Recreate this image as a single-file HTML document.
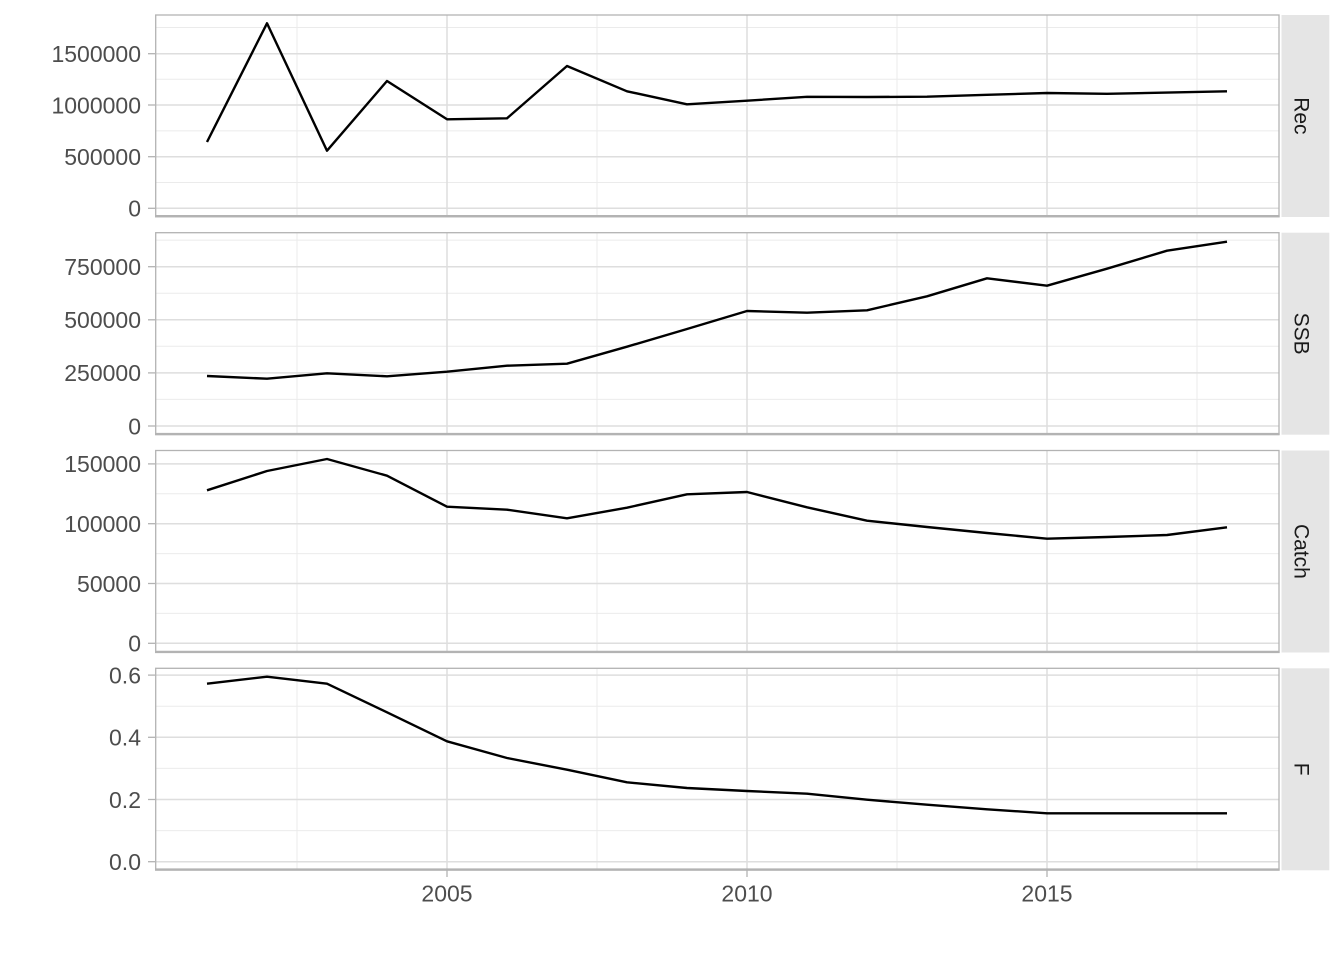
<!DOCTYPE html>
<html>
<head>
<meta charset="utf-8">
<style>
html,body{margin:0;padding:0;background:#fff;}
svg{display:block;}
text{font-family:"Liberation Sans","DejaVu Sans",sans-serif;}
</style>
</head>
<body>
<svg width="1344" height="960" viewBox="0 0 1344 960" xmlns="http://www.w3.org/2000/svg">
<rect x="0" y="0" width="1344" height="960" fill="#ffffff"/>

<!-- ============ Panel 1: Rec ============ -->
<g>
  <g stroke="#ebebeb" stroke-width="1">
    <line x1="156" x2="1279" y1="182.5" y2="182.5"/>
    <line x1="156" x2="1279" y1="130.9" y2="130.9"/>
    <line x1="156" x2="1279" y1="79.3" y2="79.3"/>
    <line x1="156" x2="1279" y1="27.5" y2="27.5"/>
    <line x1="297" x2="297" y1="15" y2="216.7"/>
    <line x1="597" x2="597" y1="15" y2="216.7"/>
    <line x1="897" x2="897" y1="15" y2="216.7"/>
    <line x1="1197" x2="1197" y1="15" y2="216.7"/>
  </g>
  <g stroke="#dedede" stroke-width="1.5">
    <line x1="156" x2="1279" y1="208.3" y2="208.3"/>
    <line x1="156" x2="1279" y1="156.7" y2="156.7"/>
    <line x1="156" x2="1279" y1="105" y2="105"/>
    <line x1="156" x2="1279" y1="53.7" y2="53.7"/>
    <line x1="447" x2="447" y1="15" y2="216.7"/>
    <line x1="747" x2="747" y1="15" y2="216.7"/>
    <line x1="1047" x2="1047" y1="15" y2="216.7"/>
  </g>
  <polyline fill="none" stroke="#000" stroke-width="2.4" stroke-linejoin="round"
    points="207,142 267,23.3 327,150.7 387,81 447,119.3 507,118.3 567,66 627,91.3 687,104.3 747,100.7 807,96.8 867,97 927,96.7 987,94.8 1047,93 1107,93.8 1167,92.6 1227,91.3"/>
  <rect x="155.7" y="15" width="1123.3" height="201.7" fill="none" stroke="#b3b3b3" stroke-width="1.3"/>
  <line x1="155" x2="1279.6" y1="216.2" y2="216.2" stroke="#b3b3b3" stroke-width="2.4"/>
  <g stroke="#b3b3b3" stroke-width="1.3">
    <line x1="148" x2="155" y1="208.3" y2="208.3"/>
    <line x1="148" x2="155" y1="156.7" y2="156.7"/>
    <line x1="148" x2="155" y1="105" y2="105"/>
    <line x1="148" x2="155" y1="53.7" y2="53.7"/>
  </g>
  <g font-size="23" fill="#4d4d4d" text-anchor="end">
    <text x="141" y="208.3" dy="0.36em">0</text>
    <text x="141" y="156.7" dy="0.36em">500000</text>
    <text x="141" y="105" dy="0.36em">1000000</text>
    <text x="141" y="53.7" dy="0.36em">1500000</text>
  </g>
  <rect x="1281.5" y="15" width="47.8" height="202" fill="#e5e5e5"/>
  <text x="1302" y="115.9" font-size="21" fill="#1a1a1a" text-anchor="middle" transform="rotate(90 1302 115.9)" dy="0.36em">Rec</text>
</g>

<!-- ============ Panel 2: SSB ============ -->
<g>
  <g stroke="#ebebeb" stroke-width="1">
    <line x1="156" x2="1279" y1="399.4" y2="399.4"/>
    <line x1="156" x2="1279" y1="346.3" y2="346.3"/>
    <line x1="156" x2="1279" y1="293.2" y2="293.2"/>
    <line x1="156" x2="1279" y1="240.1" y2="240.1"/>
    <line x1="297" x2="297" y1="232.7" y2="434.5"/>
    <line x1="597" x2="597" y1="232.7" y2="434.5"/>
    <line x1="897" x2="897" y1="232.7" y2="434.5"/>
    <line x1="1197" x2="1197" y1="232.7" y2="434.5"/>
  </g>
  <g stroke="#dedede" stroke-width="1.5">
    <line x1="156" x2="1279" y1="426" y2="426"/>
    <line x1="156" x2="1279" y1="372.9" y2="372.9"/>
    <line x1="156" x2="1279" y1="319.8" y2="319.8"/>
    <line x1="156" x2="1279" y1="266.7" y2="266.7"/>
    <line x1="447" x2="447" y1="232.7" y2="434.5"/>
    <line x1="747" x2="747" y1="232.7" y2="434.5"/>
    <line x1="1047" x2="1047" y1="232.7" y2="434.5"/>
  </g>
  <polyline fill="none" stroke="#000" stroke-width="2.4" stroke-linejoin="round"
    points="207,376 267,378.7 327,373.3 387,376.3 447,371.7 507,365.7 567,363.7 627,346.7 687,329 747,311 807,312.7 867,310.3 927,296.3 987,278.3 1047,285.7 1107,268.7 1167,250.7 1227,241.7"/>
  <rect x="155.7" y="232.7" width="1123.3" height="201.8" fill="none" stroke="#b3b3b3" stroke-width="1.3"/>
  <line x1="155" x2="1279.6" y1="434.1" y2="434.1" stroke="#b3b3b3" stroke-width="2.4"/>
  <g stroke="#b3b3b3" stroke-width="1.3">
    <line x1="148" x2="155" y1="426" y2="426"/>
    <line x1="148" x2="155" y1="372.9" y2="372.9"/>
    <line x1="148" x2="155" y1="319.8" y2="319.8"/>
    <line x1="148" x2="155" y1="266.7" y2="266.7"/>
  </g>
  <g font-size="23" fill="#4d4d4d" text-anchor="end">
    <text x="141" y="426" dy="0.36em">0</text>
    <text x="141" y="372.9" dy="0.36em">250000</text>
    <text x="141" y="319.8" dy="0.36em">500000</text>
    <text x="141" y="266.7" dy="0.36em">750000</text>
  </g>
  <rect x="1281.5" y="232.7" width="47.8" height="202" fill="#e5e5e5"/>
  <text x="1302" y="333.6" font-size="21" fill="#1a1a1a" text-anchor="middle" transform="rotate(90 1302 333.6)" dy="0.36em">SSB</text>
</g>

<!-- ============ Panel 3: Catch ============ -->
<g>
  <g stroke="#ebebeb" stroke-width="1">
    <line x1="156" x2="1279" y1="613.4" y2="613.4"/>
    <line x1="156" x2="1279" y1="553.6" y2="553.6"/>
    <line x1="156" x2="1279" y1="493.8" y2="493.8"/>
    <line x1="297" x2="297" y1="450.5" y2="652.3"/>
    <line x1="597" x2="597" y1="450.5" y2="652.3"/>
    <line x1="897" x2="897" y1="450.5" y2="652.3"/>
    <line x1="1197" x2="1197" y1="450.5" y2="652.3"/>
  </g>
  <g stroke="#dedede" stroke-width="1.5">
    <line x1="156" x2="1279" y1="643.3" y2="643.3"/>
    <line x1="156" x2="1279" y1="583.5" y2="583.5"/>
    <line x1="156" x2="1279" y1="523.7" y2="523.7"/>
    <line x1="156" x2="1279" y1="463.9" y2="463.9"/>
    <line x1="447" x2="447" y1="450.5" y2="652.3"/>
    <line x1="747" x2="747" y1="450.5" y2="652.3"/>
    <line x1="1047" x2="1047" y1="450.5" y2="652.3"/>
  </g>
  <polyline fill="none" stroke="#000" stroke-width="2.4" stroke-linejoin="round"
    points="207,490.3 267,471 327,459 387,475.7 447,506.7 507,509.7 567,518.3 627,507.7 687,494.3 747,492 807,507.3 867,520.7 927,527 987,533 1047,538.7 1107,537 1167,535 1227,527.3"/>
  <rect x="155.7" y="450.5" width="1123.3" height="201.8" fill="none" stroke="#b3b3b3" stroke-width="1.3"/>
  <line x1="155" x2="1279.6" y1="651.9" y2="651.9" stroke="#b3b3b3" stroke-width="2.4"/>
  <g stroke="#b3b3b3" stroke-width="1.3">
    <line x1="148" x2="155" y1="643.3" y2="643.3"/>
    <line x1="148" x2="155" y1="583.5" y2="583.5"/>
    <line x1="148" x2="155" y1="523.7" y2="523.7"/>
    <line x1="148" x2="155" y1="463.9" y2="463.9"/>
  </g>
  <g font-size="23" fill="#4d4d4d" text-anchor="end">
    <text x="141" y="643.3" dy="0.36em">0</text>
    <text x="141" y="583.5" dy="0.36em">50000</text>
    <text x="141" y="523.7" dy="0.36em">100000</text>
    <text x="141" y="463.9" dy="0.36em">150000</text>
  </g>
  <rect x="1281.5" y="450.5" width="47.8" height="202" fill="#e5e5e5"/>
  <text x="1302" y="551.4" font-size="21" fill="#1a1a1a" text-anchor="middle" transform="rotate(90 1302 551.4)" dy="0.36em">Catch</text>
</g>

<!-- ============ Panel 4: F ============ -->
<g>
  <g stroke="#ebebeb" stroke-width="1">
    <line x1="156" x2="1279" y1="830.6" y2="830.6"/>
    <line x1="156" x2="1279" y1="768.4" y2="768.4"/>
    <line x1="156" x2="1279" y1="706.2" y2="706.2"/>
    <line x1="297" x2="297" y1="668.3" y2="870"/>
    <line x1="597" x2="597" y1="668.3" y2="870"/>
    <line x1="897" x2="897" y1="668.3" y2="870"/>
    <line x1="1197" x2="1197" y1="668.3" y2="870"/>
  </g>
  <g stroke="#dedede" stroke-width="1.5">
    <line x1="156" x2="1279" y1="861.7" y2="861.7"/>
    <line x1="156" x2="1279" y1="799.5" y2="799.5"/>
    <line x1="156" x2="1279" y1="737.3" y2="737.3"/>
    <line x1="156" x2="1279" y1="675.1" y2="675.1"/>
    <line x1="447" x2="447" y1="668.3" y2="870"/>
    <line x1="747" x2="747" y1="668.3" y2="870"/>
    <line x1="1047" x2="1047" y1="668.3" y2="870"/>
  </g>
  <polyline fill="none" stroke="#000" stroke-width="2.4" stroke-linejoin="round"
    points="207,683.7 267,676.7 327,683.7 387,712.3 447,741.3 507,758 567,769.7 627,782.3 687,788 747,791 807,793.7 867,799.7 927,804.7 987,809.3 1047,813.3 1107,813.3 1167,813.3 1227,813.3"/>
  <rect x="155.7" y="668.3" width="1123.3" height="201.7" fill="none" stroke="#b3b3b3" stroke-width="1.3"/>
  <line x1="155" x2="1279.6" y1="869.6" y2="869.6" stroke="#b3b3b3" stroke-width="2.4"/>
  <g stroke="#b3b3b3" stroke-width="1.3">
    <line x1="148" x2="155" y1="861.7" y2="861.7"/>
    <line x1="148" x2="155" y1="799.5" y2="799.5"/>
    <line x1="148" x2="155" y1="737.3" y2="737.3"/>
    <line x1="148" x2="155" y1="675.1" y2="675.1"/>
    <line x1="447" x2="447" y1="870" y2="877"/>
    <line x1="747" x2="747" y1="870" y2="877"/>
    <line x1="1047" x2="1047" y1="870" y2="877"/>
  </g>
  <g font-size="23" fill="#4d4d4d" text-anchor="end">
    <text x="141" y="861.7" dy="0.36em">0.0</text>
    <text x="141" y="799.5" dy="0.36em">0.2</text>
    <text x="141" y="737.3" dy="0.36em">0.4</text>
    <text x="141" y="675.1" dy="0.36em">0.6</text>
  </g>
  <g font-size="23" fill="#4d4d4d" text-anchor="middle">
    <text x="447" y="901.7">2005</text>
    <text x="747" y="901.7">2010</text>
    <text x="1047" y="901.7">2015</text>
  </g>
  <rect x="1281.5" y="668.3" width="47.8" height="202" fill="#e5e5e5"/>
  <text x="1302" y="769.2" font-size="21" fill="#1a1a1a" text-anchor="middle" transform="rotate(90 1302 769.2)" dy="0.36em">F</text>
</g>
</svg>
</body>
</html>
